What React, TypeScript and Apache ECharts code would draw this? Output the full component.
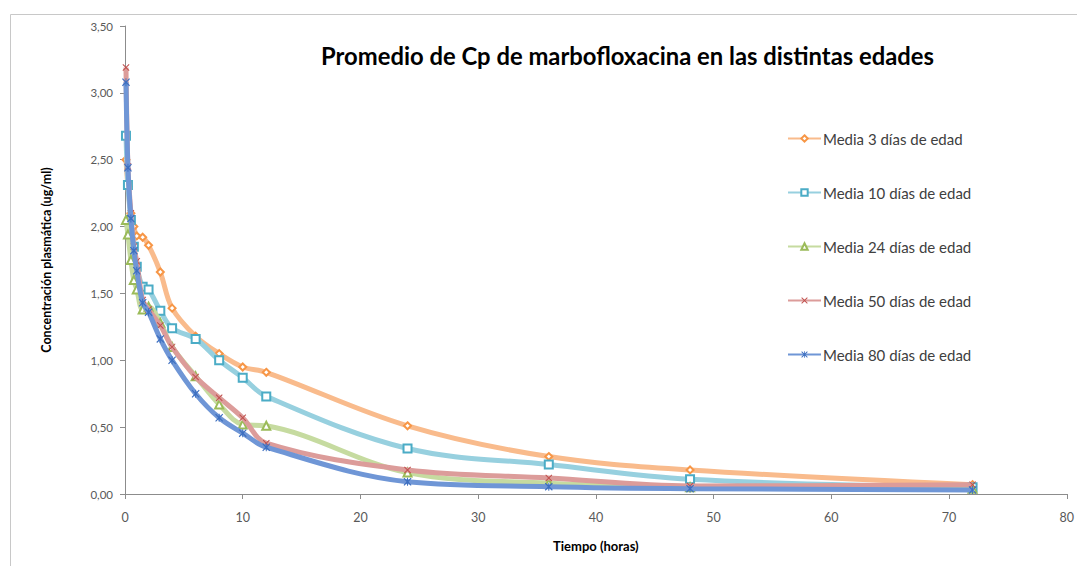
import React, { useEffect, useRef } from "react";
import * as echarts from "echarts";

const TIMES = [0.083, 0.25, 0.5, 0.75, 1, 1.5, 2, 3, 4, 6, 8, 10, 12, 24, 36, 48, 72];

const SERIES_NAMES = [
  "Media 3 días de edad",
  "Media 10 días de edad",
  "Media 24 días de edad",
  "Media 50 días de edad",
  "Media 80 días de edad",
];

const MEDIA_3 = [2.5, 2.3, 2.1, 2.0, 1.93, 1.92, 1.86, 1.66, 1.39, 1.18, 1.05, 0.95, 0.91, 0.51, 0.28, 0.18, 0.07];
const MEDIA_10 = [2.68, 2.31, 2.05, 1.85, 1.7, 1.55, 1.53, 1.37, 1.24, 1.16, 1.0, 0.87, 0.73, 0.34, 0.22, 0.11, 0.05];
const MEDIA_24 = [2.05, 1.94, 1.75, 1.6, 1.53, 1.38, 1.4, 1.28, 1.1, 0.88, 0.67, 0.52, 0.51, 0.16, 0.08, 0.05, 0.04];
const MEDIA_50 = [3.19, 2.45, 2.1, 1.85, 1.74, 1.45, 1.38, 1.26, 1.1, 0.875, 0.72, 0.57, 0.38, 0.18, 0.12, 0.06, 0.07];
const MEDIA_80 = [3.08, 2.44, 2.06, 1.82, 1.67, 1.43, 1.36, 1.16, 1.0, 0.75, 0.57, 0.455, 0.35, 0.092, 0.055, 0.04, 0.03];

const Y_TICKS = ["0,00", "0,50", "1,00", "1,50", "2,00", "2,50", "3,00", "3,50"];

const LINE_COLORS = ["#f9bb8c", "#97d0df", "#c6dba0", "#dc9c9a", "#6f96d6"];
const MARK_COLORS = ["#f79646", "#4bacc6", "#9bbb59", "#c0504d", "#3d6fc0"];

const X_PATH = "path://M0,1L1,0L5,4L9,0L10,1L6,5L10,9L9,10L5,6L1,10L0,9L4,5Z";
const STAR_PATH =
  "path://M0,1L1,0L4.4,3.4L4.4,0L5.6,0L5.6,3.4L9,0L10,1L6.2,5L10,9L9,10L5.6,6.6L5.6,10L4.4,10L4.4,6.6L1,10L0,9L3.8,5Z";

const SYMBOLS = ["emptyDiamond", "emptyRect", "emptyTriangle", X_PATH, STAR_PATH];
const SYMBOL_SIZES = [7, 8, 8, 7, 8];

export default function App() {
  const ref = useRef<HTMLDivElement>(null);

  useEffect(() => {
    if (!ref.current) return;
    const chart = echarts.init(ref.current, undefined, { renderer: "svg" });
    const all = [MEDIA_3, MEDIA_10, MEDIA_24, MEDIA_50, MEDIA_80];
    const font = "Lato, 'Open Sans', sans-serif";
    chart.setOption({
      animation: false,
      backgroundColor: "#ffffff",
      title: {
        text: "Promedio de Cp de marbofloxacina en las distintas edades",
        left: 316,
        top: 39,
        textStyle: { fontFamily: font, fontSize: 23.8, fontWeight: "bold", color: "#000000" },
      },
      legend: {
        orient: "vertical",
        left: 782,
        top: 126,
        itemGap: 39,
        itemWidth: 33,
        itemHeight: 8,
        data: SERIES_NAMES,
        textStyle: { fontFamily: font, fontSize: 15, color: "#404040", padding: [0, 0, 0, -3] },
        lineStyle: { width: 2 },
      },
      graphic: [
        {
          type: "rect",
          shape: { x: 10.5, y: 14.5, width: 1200, height: 700 },
          style: { fill: "none", stroke: "#c8c8c8", lineWidth: 1 },
          silent: true,
        },
      ],
      grid: { left: 125, right: 3, top: 26, bottom: 72 },
      xAxis: {
        type: "value",
        min: 0,
        max: 80,
        interval: 10,
        name: "Tiempo (horas)",
        nameLocation: "middle",
        nameGap: 45,
        nameTextStyle: { fontFamily: font, fontSize: 13, fontWeight: "bold", color: "#000000" },
        axisLine: { show: true, lineStyle: { color: "#8c8c8c" } },
        axisTick: { show: true, length: 5, lineStyle: { color: "#8c8c8c" } },
        axisLabel: { fontFamily: font, fontSize: 12.5, color: "#595959", margin: 17 },
        splitLine: { show: false },
      },
      yAxis: {
        type: "value",
        min: 0,
        max: 3.5,
        interval: 0.5,
        name: "Concentración plasmática (ug/ml)",
        nameLocation: "middle",
        nameGap: 72,
        nameTextStyle: { fontFamily: font, fontSize: 12.5, fontWeight: "bold", color: "#000000" },
        axisLine: { show: true, lineStyle: { color: "#8c8c8c" } },
        axisTick: { show: true, length: 5, lineStyle: { color: "#8c8c8c" } },
        axisLabel: {
          fontFamily: font,
          fontSize: 11.5,
          color: "#595959",
          margin: 12,
          formatter: (v: number) => Y_TICKS[Math.round(v / 0.5)] ?? "",
        },
        splitLine: { show: false },
      },
      series: all.map((vals, i) => ({
        name: SERIES_NAMES[i],
        type: "line",
        smooth: 0.35,
        data: TIMES.map((t, k) => [t, vals[k]]),
        symbol: SYMBOLS[i],
        symbolSize: SYMBOL_SIZES[i],
        showAllSymbol: true,
        lineStyle: { color: LINE_COLORS[i], width: 5 },
        itemStyle: {
          color: MARK_COLORS[i],
          borderWidth: i >= 3 ? 0 : 1.2,
        },
        z: 2 + i,
      })),
    });
    return () => chart.dispose();
  }, []);

  return (
    <div
      ref={ref}
      style={{ position: "fixed", left: 0, top: 0, width: 1077, height: 566, background: "#fff" }}
    />
  );
}
